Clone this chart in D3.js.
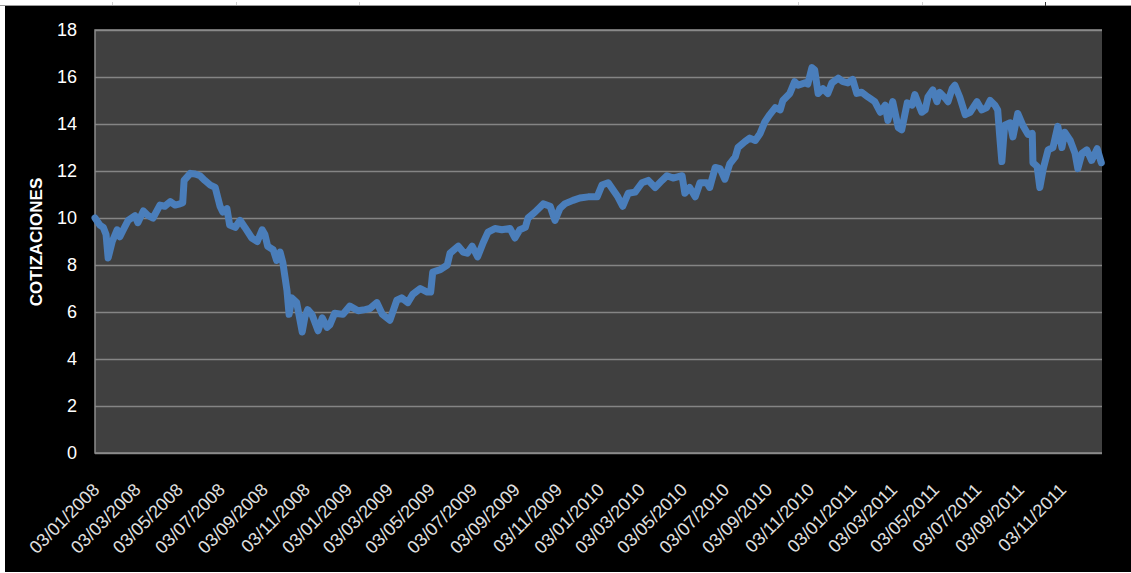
<!DOCTYPE html>
<html>
<head>
<meta charset="utf-8">
<script src="https://cdn.jsdelivr.net/npm/d3@7/dist/d3.min.js"></script>
<style>
  html, body { margin: 0; padding: 0; background: #ffffff; }
  svg { display: block; }
</style>
</head>
<body>
<svg id="chart" width="1131" height="573"></svg>
<script>
// ---------------- DATA ----------------
const yTicks = [0, 2, 4, 6, 8, 10, 12, 14, 16, 18];
const tickLabels = ["03/01/2008","03/03/2008","03/05/2008","03/07/2008","03/09/2008","03/11/2008",
  "03/01/2009","03/03/2009","03/05/2009","03/07/2009","03/09/2009","03/11/2009",
  "03/01/2010","03/03/2010","03/05/2010","03/07/2010","03/09/2010","03/11/2010",
  "03/01/2011","03/03/2011","03/05/2011","03/07/2011","03/09/2011","03/11/2011"];
const yTitle = "COTIZACIONES";
const domainStart = "2008-01-03";
const domainEnd = "2011-12-31";

const dates = ["2008-01-03","2008-01-10","2008-01-15","2008-01-19","2008-01-22","2008-01-28","2008-02-04","2008-02-08","2008-02-13","2008-02-20",
"2008-03-01","2008-03-05","2008-03-13","2008-03-20","2008-03-27","2008-04-06","2008-04-13","2008-04-21","2008-04-28","2008-05-05",
"2008-05-09","2008-05-11","2008-05-20","2008-05-27","2008-06-03","2008-06-10","2008-06-18","2008-06-25","2008-07-02","2008-07-06",
"2008-07-12","2008-07-16","2008-07-24","2008-07-31","2008-08-07","2008-08-17","2008-08-25","2008-09-01","2008-09-05","2008-09-09",
"2008-09-17","2008-09-22","2008-09-27","2008-10-01","2008-10-07","2008-10-10","2008-10-14","2008-10-21","2008-10-29","2008-11-02",
"2008-11-06","2008-11-12","2008-11-21","2008-11-27","2008-12-04","2008-12-08","2008-12-15","2008-12-27","2009-01-06","2009-01-18",
"2009-01-28","2009-02-04","2009-02-14","2009-02-22","2009-03-05","2009-03-15","2009-03-22","2009-03-31","2009-04-07","2009-04-18",
"2009-04-28","2009-05-03","2009-05-06","2009-05-17","2009-05-27","2009-05-31","2009-06-12","2009-06-19","2009-06-25","2009-07-02",
"2009-07-10","2009-07-18","2009-07-25","2009-08-04","2009-08-14","2009-08-26","2009-09-02","2009-09-09","2009-09-17","2009-09-21",
"2009-10-01","2009-10-13","2009-10-23","2009-10-30","2009-11-06","2009-11-13","2009-11-25","2009-12-05","2009-12-17","2009-12-30",
"2010-01-06","2010-01-15","2010-01-22","2010-01-29","2010-02-05","2010-02-13","2010-02-23","2010-03-05","2010-03-14","2010-03-24",
"2010-04-03","2010-04-10","2010-04-19","2010-05-02","2010-05-06","2010-05-13","2010-05-21","2010-05-28","2010-06-07","2010-06-11",
"2010-06-19","2010-06-26","2010-07-03","2010-07-10","2010-07-18","2010-07-22","2010-08-01","2010-08-08","2010-08-16","2010-08-23",
"2010-08-30","2010-09-06","2010-09-14","2010-09-21","2010-09-25","2010-10-05","2010-10-12","2010-10-17","2010-10-27","2010-10-31",
"2010-11-06","2010-11-10","2010-11-15","2010-11-22","2010-11-29","2010-12-05","2010-12-14","2010-12-21","2010-12-28","2011-01-04",
"2011-01-10","2011-01-17","2011-01-26","2011-02-05","2011-02-13","2011-02-20","2011-02-24","2011-03-03","2011-03-11","2011-03-16",
"2011-03-24","2011-03-31","2011-04-04","2011-04-14","2011-04-19","2011-04-23","2011-04-30","2011-05-06","2011-05-10","2011-05-18",
"2011-05-22","2011-05-28","2011-06-01","2011-06-08","2011-06-16","2011-06-23","2011-07-03","2011-07-10","2011-07-17","2011-07-22",
"2011-07-29","2011-08-02","2011-08-05","2011-08-08","2011-08-12","2011-08-20","2011-08-24","2011-08-31","2011-09-08","2011-09-15",
"2011-09-21","2011-09-22","2011-09-28","2011-10-02","2011-10-07","2011-10-14","2011-10-21","2011-10-28","2011-11-03","2011-11-07",
"2011-11-15","2011-11-22","2011-11-26","2011-12-02","2011-12-09","2011-12-16","2011-12-24","2011-12-30"];

const prices = [10.0, 9.7, 9.6, 9.3, 8.3, 9.0, 9.5, 9.2, 9.5, 9.9,
10.1, 9.8, 10.3, 10.1, 10.0, 10.55, 10.5, 10.7, 10.55, 10.6,
10.65, 11.6, 11.9, 11.87, 11.8, 11.6, 11.4, 11.3, 10.5, 10.25,
10.4, 9.7, 9.6, 9.9, 9.6, 9.15, 9.0, 9.5, 9.3, 8.8,
8.65, 8.2, 8.55, 8.1, 6.9, 5.9, 6.6, 6.4, 5.15, 5.8,
6.1, 5.9, 5.2, 5.75, 5.35, 5.45, 5.95, 5.9, 6.25, 6.05,
6.1, 6.15, 6.4, 5.9, 5.65, 6.5, 6.6, 6.4, 6.75, 7.0,
6.85, 6.85, 7.7, 7.8, 8.0, 8.5, 8.8, 8.55, 8.5, 8.8,
8.35, 8.95, 9.4, 9.55, 9.5, 9.55, 9.15, 9.5, 9.6, 10.0,
10.25, 10.6, 10.5, 9.9, 10.4, 10.6, 10.75, 10.85, 10.9, 10.9,
11.4, 11.5, 11.2, 10.9, 10.5, 11.05, 11.1, 11.5, 11.6, 11.3,
11.6, 11.8, 11.7, 11.8, 11.05, 11.3, 10.9, 11.5, 11.5, 11.3,
12.15, 12.1, 11.65, 12.3, 12.6, 13.0, 13.25, 13.4, 13.3, 13.6,
14.1, 14.4, 14.7, 14.6, 15.0, 15.3, 15.8, 15.65, 15.75, 15.7,
16.4, 16.3, 15.3, 15.5, 15.3, 15.75, 15.95, 15.8, 15.75, 15.9,
15.3, 15.35, 15.15, 14.95, 14.5, 14.8, 14.15, 14.95, 13.85, 13.75,
14.9, 14.8, 15.25, 14.5, 14.6, 15.15, 15.45, 14.95, 15.35, 15.1,
14.95, 15.5, 15.65, 15.15, 14.4, 14.5, 14.95, 14.6, 14.7, 15.0,
14.8, 14.6, 13.45, 12.4, 13.95, 14.05, 13.45, 14.45, 13.9, 13.55,
13.6, 12.35, 12.2, 11.3, 12.1, 12.9, 13.0, 13.9, 13.0, 13.65,
13.3, 12.75, 12.1, 12.75, 12.9, 12.45, 12.95, 12.35];

// ---------------- CHART ----------------
const W = 1131, H = 573;
const plot = { left: 95, right: 1102, top: 30, bottom: 453 };
const parseISO = d3.timeParse("%Y-%m-%d");
const parseLabel = d3.timeParse("%d/%m/%Y");
const fmtLabel = d3.timeFormat("%d/%m/%Y");

const n = Math.min(dates.length, prices.length);
const series = d3.range(n).map(i => ({ date: parseISO(dates[i]), value: prices[i] }));

const svg = d3.select("#chart");

// outer frame
svg.append("rect").attr("x", 0).attr("y", 0).attr("width", W).attr("height", H).attr("fill", "#ffffff");
svg.append("rect").attr("x", 5).attr("y", 6).attr("width", W - 5).attr("height", H - 7).attr("fill", "#000000");
svg.append("line").attr("x1", 0).attr("x2", W).attr("y1", 5.5).attr("y2", 5.5)
  .attr("stroke", "#9a9a9a").attr("stroke-width", 1);
[112, 236, 359, 798, 922].forEach(px => {
  svg.append("line").attr("x1", px + 0.5).attr("x2", px + 0.5).attr("y1", 2).attr("y2", 5)
    .attr("stroke", "#cfcfcf").attr("stroke-width", 1);
});
svg.append("line").attr("x1", 1045.5).attr("x2", 1045.5).attr("y1", 2).attr("y2", 6)
  .attr("stroke", "#333333").attr("stroke-width", 1);

const x = d3.scaleTime()
  .domain([parseISO(domainStart), parseISO(domainEnd)])
  .range([plot.left, plot.right]);
const y = d3.scaleLinear().domain([0, 18]).range([plot.bottom, plot.top]);

// plot background
svg.append("rect")
  .attr("x", plot.left).attr("y", plot.top)
  .attr("width", plot.right - plot.left).attr("height", plot.bottom - plot.top)
  .attr("fill", "#404040");

// gridlines
const grid = svg.append("g").attr("transform", `translate(${plot.left},0)`)
  .call(d3.axisLeft(y).tickValues(yTicks).tickSize(-(plot.right - plot.left)).tickFormat(""));
grid.select(".domain").remove();
grid.selectAll("line").attr("stroke", "#858585").attr("stroke-width", 1.5);

// plot border (top, left, bottom)
svg.append("path")
  .attr("d", `M${plot.right},${plot.top}H${plot.left}V${plot.bottom}H${plot.right}`)
  .attr("fill", "none").attr("stroke", "#8c8c8c").attr("stroke-width", 1.5);

// y axis labels
const yAxis = svg.append("g").attr("transform", `translate(${plot.left},0)`)
  .call(d3.axisLeft(y).tickValues(yTicks).tickSize(0).tickPadding(18).tickFormat(d3.format("d")));
yAxis.select(".domain").remove();
yAxis.selectAll("text")
  .attr("fill", "#ffffff")
  .style("font-family", "'Liberation Sans', Arial, sans-serif")
  .style("font-size", "18px");

// x axis labels
const tickDates = tickLabels.map(parseLabel);
const xAxis = svg.append("g").attr("transform", `translate(0,${plot.bottom})`)
  .call(d3.axisBottom(x).tickValues(tickDates).tickSize(0).tickFormat(fmtLabel));
xAxis.select(".domain").remove();
xAxis.selectAll("text")
  .attr("x", 0).attr("y", 0).attr("dy", 0)
  .attr("transform", "translate(5,38) rotate(-45)")
  .style("text-anchor", "end")
  .attr("fill", "#e0e0e0")
  .style("font-family", "'Liberation Sans', Arial, sans-serif")
  .style("font-size", "18px");

// y title
svg.append("text")
  .attr("transform", `translate(38,242) rotate(-90)`)
  .attr("text-anchor", "middle")
  .attr("dominant-baseline", "middle")
  .attr("fill", "#ffffff")
  .style("font-family", "'Liberation Sans', Arial, sans-serif")
  .style("font-weight", "bold")
  .style("font-size", "17px")
  .text(yTitle);

// line
const line = d3.line().x(d => x(d.date)).y(d => y(d.value));
svg.append("path")
  .datum(series)
  .attr("d", line)
  .attr("fill", "none")
  .attr("stroke", "#4a7ebb")
  .attr("stroke-width", 7)
  .attr("stroke-linejoin", "round")
  .attr("stroke-linecap", "round");
</script>
</body>
</html>
